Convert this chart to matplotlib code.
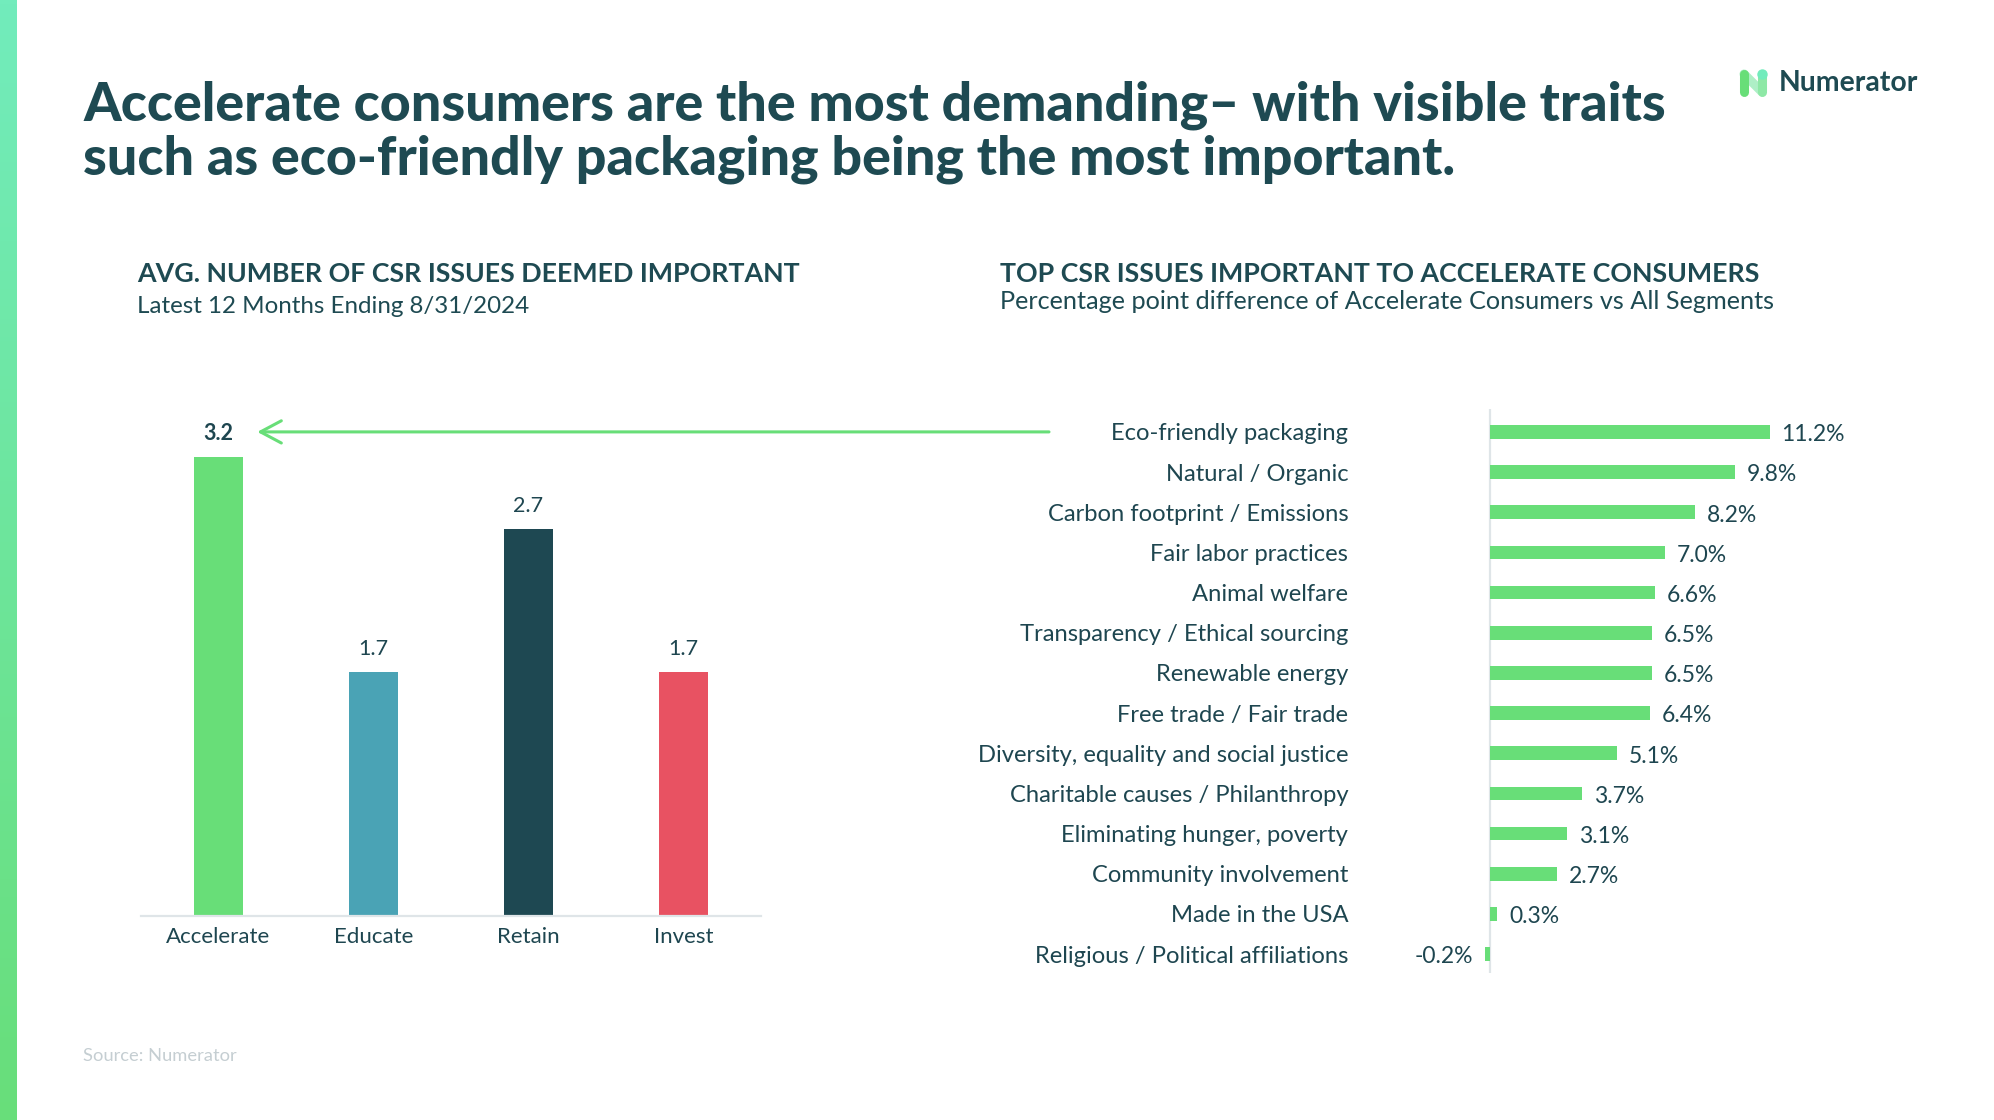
import matplotlib
matplotlib.use("Agg")
import matplotlib.pyplot as plt
import numpy as np
from matplotlib.patches import ConnectionPatch
from matplotlib.transforms import blended_transform_factory
from matplotlib.colors import LinearSegmentedColormap

# ---------------- data ----------------
segments = ["Accelerate", "Educate", "Retain", "Invest"]
avg_issues = [3.2, 1.7, 2.7, 1.7]
segment_colors = ["#68de78", "#4aa3b5", "#1e4852", "#e85262"]

issues = ["Eco-friendly packaging", "Natural / Organic", "Carbon footprint / Emissions",
          "Fair labor practices", "Animal welfare", "Transparency / Ethical sourcing",
          "Renewable energy", "Free trade / Fair trade", "Diversity, equality and social justice",
          "Charitable causes / Philanthropy", "Eliminating hunger, poverty",
          "Community involvement", "Made in the USA", "Religious / Political affiliations"]
pp_diff = [11.2, 9.8, 8.2, 7.0, 6.6, 6.5, 6.5, 6.4, 5.1, 3.7, 3.1, 2.7, 0.3, -0.2]

title_lines = ["Accelerate consumers are the most demanding\u2013 with visible traits",
               "such as eco-friendly packaging being the most important."]
left_title = "AVG. NUMBER OF CSR ISSUES DEEMED IMPORTANT"
left_sub = "Latest 12 Months Ending 8/31/2024"
right_title = "TOP CSR ISSUES IMPORTANT TO ACCELERATE CONSUMERS"
right_sub = "Percentage point difference of Accelerate Consumers vs All Segments"
source = "Source: Numerator"
brand = "Numerator"

# ---------------- style ----------------
W, H = 1994, 1120
DARK = "#1e4a52"
TXT = "#1e4650"
GREEN = "#68de78"
GRID = "#dfe5e8"
FONT = "Lato"
plt.rcParams["font.family"] = [FONT, "DejaVu Sans"]

fig = plt.figure(figsize=(W / 100, H / 100), dpi=100)
fig.patch.set_facecolor("white")
renderer = fig.canvas.get_renderer()

def fx(px):
    return px / W

def fy(py):
    return 1 - py / H

def axes_px(l, t, r, b):
    return fig.add_axes([fx(l), fy(b), (r - l) / W, (b - t) / H])

def fit(txt, width_px):
    """scale font size so the text spans width_px"""
    bb = txt.get_window_extent(renderer)
    txt.set_fontsize(txt.get_fontsize() * width_px / bb.width)
    return txt

def fitted_size(s, width_px, **kw):
    t = fig.text(0, 0, s, fontsize=10, **kw)
    fit(t, width_px)
    size = t.get_fontsize()
    t.remove()
    return size

# left gradient stripe
sax = axes_px(0, 0, 17, H)
cmap = LinearSegmentedColormap.from_list("stripe", ["#72ecbc", "#68de7a"])
sax.imshow(np.linspace(0, 1, 256).reshape(-1, 1), aspect="auto", cmap=cmap)
sax.axis("off")

# title
t1 = fig.text(fx(83), fy(121), title_lines[0], fontsize=40, fontweight="black",
              color=DARK, va="baseline", ha="left")
fit(t1, 1582)
fig.text(fx(83), fy(174), title_lines[1], fontsize=t1.get_fontsize(), fontweight="black",
         color=DARK, va="baseline", ha="left")

# logo
lax = axes_px(1736, 66, 1770, 100)
lax.set_xlim(0, 34); lax.set_ylim(34, 0); lax.axis("off")
lax.plot([8, 26], [8, 26], color="#a5eec0", lw=6.5, solid_capstyle="round", alpha=0.9)
lax.plot([8, 8], [8, 26], color=GREEN, lw=6.5, solid_capstyle="round")
lax.plot([26, 26], [8, 26], color="#8ee8a6", lw=6.5, solid_capstyle="round")
lax.plot([26], [8], marker="o", ms=6.5, color="#72ecbc")
tb = fig.text(fx(1779), fy(83), brand, fontsize=19, fontweight="bold", color=DARK,
              va="center", ha="left")
fit(tb, 139)

# panel titles
lt = fig.text(fx(137), fy(282), left_title, fontsize=19, fontweight="bold", color=DARK,
              va="baseline")
fit(lt, 661)
ls = fig.text(fx(137), fy(313), left_sub, fontsize=15, color=DARK, va="baseline")
fit(ls, 394)
rt = fig.text(fx(1000), fy(282), right_title, fontsize=lt.get_fontsize(), fontweight="bold",
              color=DARK, va="baseline")
rs = fig.text(fx(1000), fy(309), right_sub, fontsize=15, color=DARK, va="baseline")
fit(rs, 777)

# ---------------- left bar chart ----------------
ax1 = axes_px(141, 342, 761, 916)
x = np.arange(len(segments))
ax1.bar(x, avg_issues, width=0.31, color=segment_colors)
ax1.set_xlim(-0.5, 3.5)
ax1.set_ylim(0, 4)
for sp in ["top", "right", "left"]:
    ax1.spines[sp].set_visible(False)
ax1.spines["bottom"].set_color(GRID)
ax1.spines["bottom"].set_linewidth(1.6)
ax1.set_yticks([])
ax1.set_xticks(x)
cat_size = min(fitted_size(segments[0], 106), 16)
ax1.set_xticklabels(segments, fontsize=cat_size, color=TXT)
ax1.tick_params(axis="x", length=0, pad=8)
for i, v in enumerate(avg_issues):
    ax1.annotate(f"{v:.1f}", (i, v), xytext=(0, 16.5), textcoords="offset points",
                 ha="center", va="center", fontsize=15.5,
                 fontweight="bold" if i == 0 else "normal", color=TXT)

# ---------------- right bar chart ----------------
ax2 = axes_px(1440, 409, 1940, 973)
y = np.arange(len(issues))
ax2.barh(y, pp_diff, height=0.34, color=GREEN)
ax2.set_xlim(-2.003, 18.03)
ax2.set_ylim(13.47, -0.57)
ax2.axvline(0, color=GRID, lw=1.6, zorder=0)
for sp in ax2.spines.values():
    sp.set_visible(False)
ax2.set_xticks([])
ax2.set_yticks(y)
lab_size = min(fitted_size(issues[8], 372), 17.5)
ax2.set_yticklabels(issues, fontsize=lab_size, color=TXT)
ax2.tick_params(axis="y", length=0, pad=66)
for i, v in enumerate(pp_diff):
    if v >= 0:
        ax2.annotate(f"{v:.1f}%", (v, i), xytext=(8.5, -2), textcoords="offset points",
                     ha="left", va="center", fontsize=16.5, color=TXT)
    else:
        ax2.annotate(f"{v:.1f}%", (v, i), xytext=(-8.5, -2), textcoords="offset points",
                     ha="right", va="center", fontsize=16.5, color=TXT)

# arrow from the top issue to the Accelerate bar
tr_from = blended_transform_factory(fig.transFigure, ax2.transData)
tr_to = blended_transform_factory(ax1.transData, ax2.transData)
arrow = ConnectionPatch(xyA=(fx(1049), 0), coordsA=tr_from,
                        xyB=(0.25, 0), coordsB=tr_to,
                        arrowstyle="->,head_length=0.75,head_width=0.4",
                        mutation_scale=20, color=GREEN, lw=2.2)
fig.add_artist(arrow)

# source
st = fig.text(fx(83), fy(1056), source, fontsize=12, color="#c5ced2", va="center")
fit(st, 154)

fig.savefig("out.png", dpi=100, facecolor="white")
